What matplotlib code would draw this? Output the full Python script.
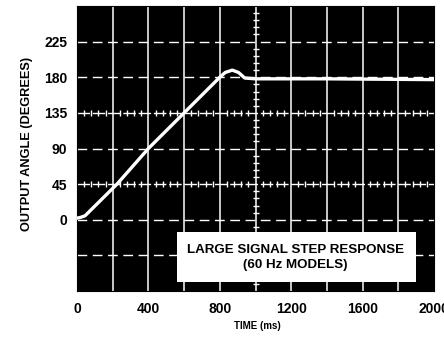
import matplotlib
matplotlib.use("Agg")
import matplotlib.pyplot as plt
import numpy as np
from matplotlib.patches import Rectangle

# Step response trace read from the scope display
time_ms = [0, 20, 45, 224, 400, 600, 800, 830, 870, 905, 940, 1000, 1400, 2000]
angle_deg = [2, 3, 5, 45, 90, 135, 180, 186, 189, 186, 179, 178, 178, 177]

x_ticks = [0, 400, 800, 1200, 1600, 2000]
y_ticks = [0, 45, 90, 135, 180, 225]
x_grid = [200, 400, 600, 800, 1000, 1200, 1400, 1600, 1800]
y_grid = [-45, 0, 90, 180, 225]
y_graticule = [45, 135]
x_graticule = [1000]

plt.rcParams['font.family'] = ['Liberation Sans', 'DejaVu Sans']
plt.rcParams['font.weight'] = 'bold'

fig = plt.figure(figsize=(4.44, 3.43), dpi=100)
ax = fig.add_axes([77/444, 1 - 291/343, (434 - 77)/444, (291 - 6)/343])
ax.set_facecolor('black')
ax.set_xlim(0, 2000)
ax.set_ylim(-90, 270)

# graticule
for gx in x_grid:
    ax.axvline(gx, color='white', lw=1.1, zorder=1)
for gy in y_grid:
    ax.axhline(gy, color='white', lw=1.0, dashes=(7, 4), zorder=1)
for gy in y_graticule:
    ax.axhline(gy, color='white', lw=1.0, dashes=(9, 2), zorder=1)
    minor_x = [v for v in np.arange(40, 2000, 40) if v % 200 != 0]
    ax.plot(minor_x, [gy] * len(minor_x), ls='none', marker='|', ms=5,
            mew=1.0, color='white', zorder=1)
for gx in x_graticule:
    minor_y = [v for v in np.arange(-81, 270, 9) if v % 45 != 0]
    ax.plot([gx] * len(minor_y), minor_y, ls='none', marker='_', ms=5,
            mew=1.0, color='white', zorder=1)

ax.plot(time_ms, angle_deg, color='white', lw=2.4, solid_capstyle='round',
        solid_joinstyle='round', zorder=3)

# caption panel
ax.add_patch(Rectangle((560, -79), 1340, 63, facecolor='white',
                       edgecolor='none', zorder=4))
ax.text(1225, -47.5, 'LARGE SIGNAL STEP RESPONSE\n(60 Hz MODELS)',
        ha='center', va='center', fontsize=9.6, fontweight='bold',
        color='black', linespacing=1.3, zorder=5)

ax.set_xticks(x_ticks)
ax.set_xticklabels([str(v) for v in x_ticks])
ax.set_yticks(y_ticks)
ax.set_yticklabels([str(v) for v in y_ticks])
ax.tick_params(axis='x', length=0, labelsize=10, pad=8)
ax.tick_params(axis='y', length=0, labelsize=10, pad=7)
for lab in ax.get_xticklabels() + ax.get_yticklabels():
    lab.set_fontweight('bold')
for sp in ax.spines.values():
    sp.set_color('black')

fig.text(27/444, 1 - 144/343, 'OUTPUT ANGLE (DEGREES)', rotation=90,
         ha='center', va='center', fontsize=9.2, fontweight='bold')
fig.text(257/444, 1 - 326/343, 'TIME (ms)', ha='center', va='center',
         fontsize=7, fontweight='bold')

fig.savefig('out.png', dpi=100, facecolor='white')
